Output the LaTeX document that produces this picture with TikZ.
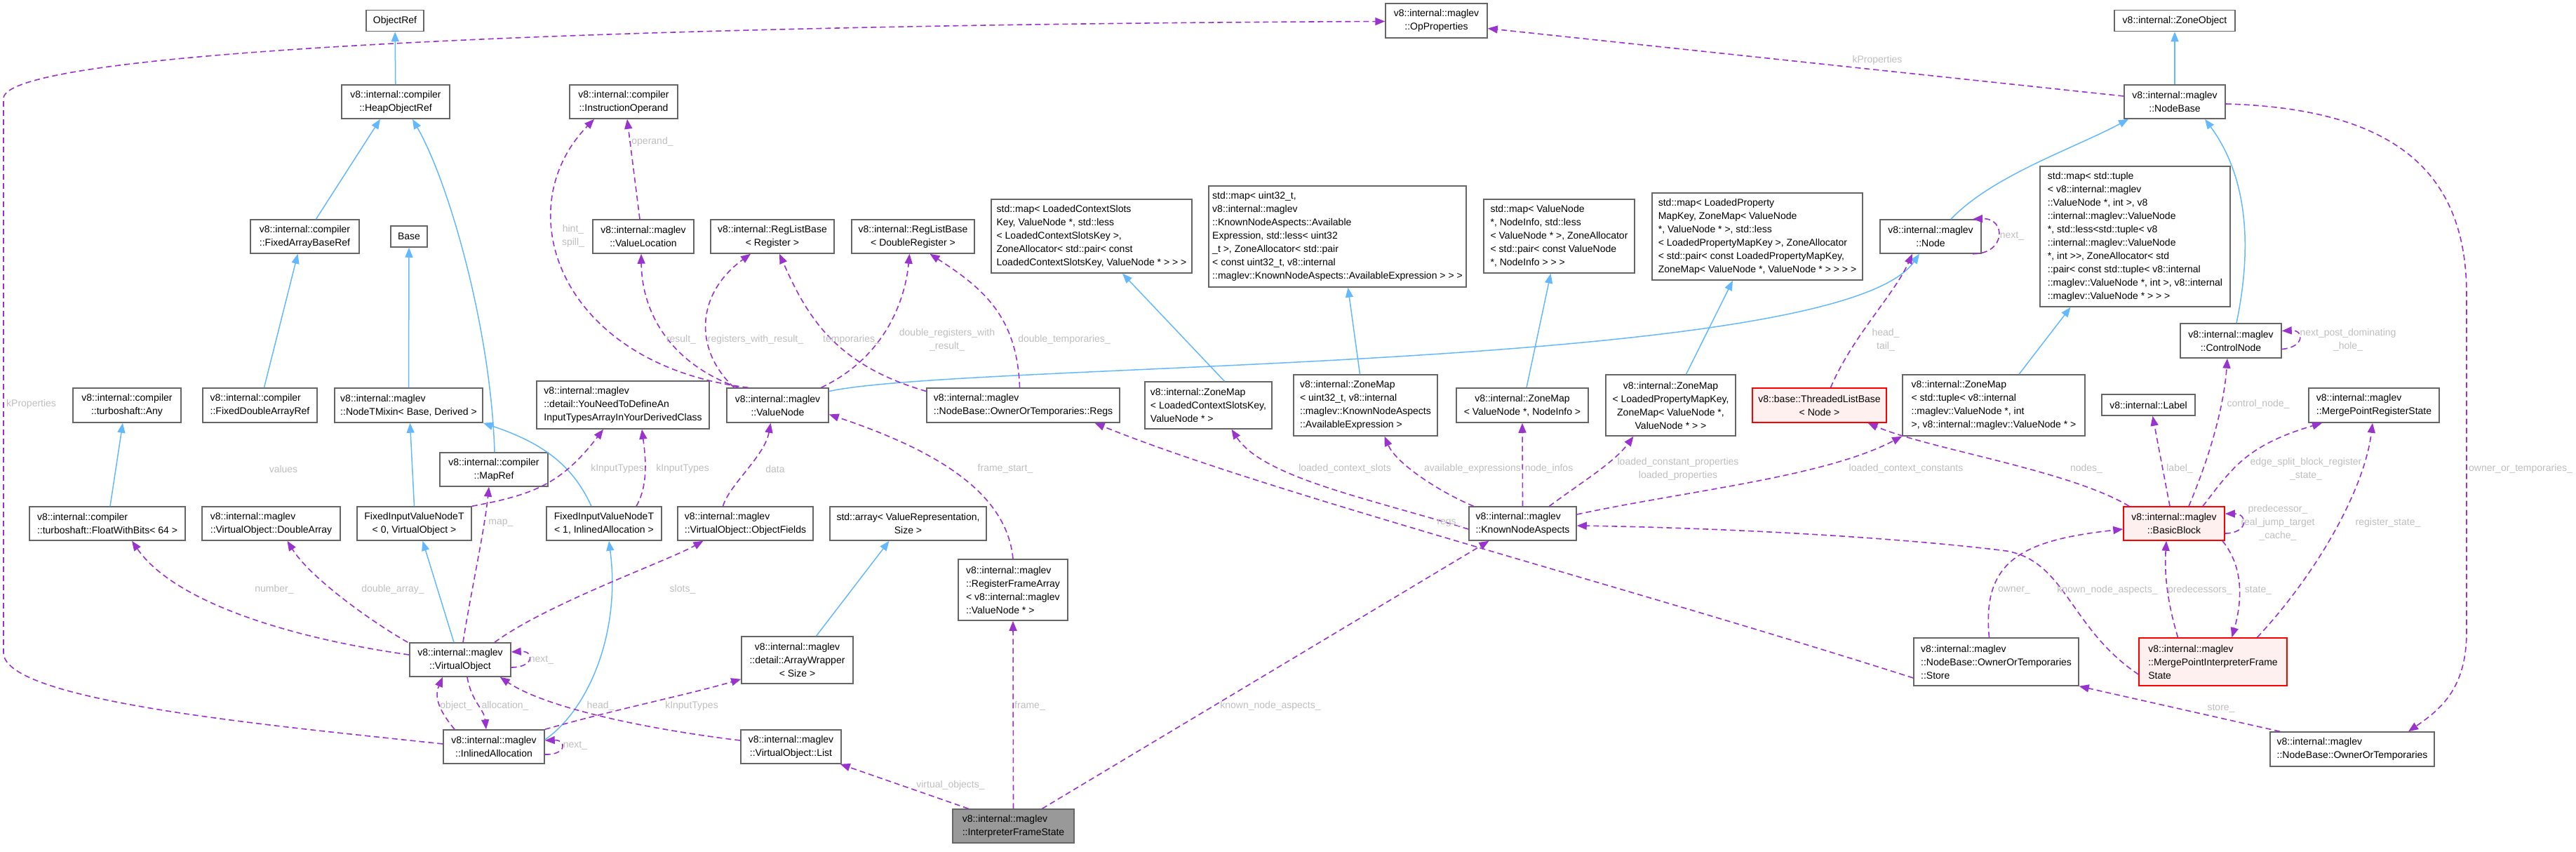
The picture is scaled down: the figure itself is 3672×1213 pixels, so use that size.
\documentclass[tikz,border=0pt]{standalone}
\usepackage{fontspec}
\setmainfont{Liberation Sans}
\usetikzlibrary{arrows.meta}

\definecolor{edgeblue}{HTML}{63B8FF}
\definecolor{edgepurple}{HTML}{9A32CD}
\definecolor{boxgray}{HTML}{666666}
\definecolor{lblgray}{HTML}{BEBEBE}
\definecolor{truncfill}{HTML}{FFF0F0}
\definecolor{curfill}{HTML}{999999}

\begin{document}
\begin{tikzpicture}[
  x=1pt, y=-1pt,
  every node/.style={font=\fontsize{14}{19}\selectfont},
  cls/.style={draw=boxgray, line width=1.5pt, fill=white, align=center, inner sep=2pt},
  clsl/.style={cls, align=left},
  sz/.style 2 args={minimum width=#1pt, minimum height=#2pt},
  trunc/.style={draw=red, fill=truncfill},
  cur/.style={fill=curfill},
  inherit/.style={draw=edgeblue, line width=1.5pt, -{Triangle[length=14pt,width=11pt]}},
  member/.style={draw=edgepurple, line width=1.6pt, dash pattern=on 8pt off 5pt,
                 -{Triangle[length=14pt,width=11pt]}},
  lbl/.style={text=lblgray, align=center, inner sep=0pt},
]
\useasboundingbox (0,0) rectangle (3672,1213);

% ---- top rows ---------------------------------------------------------
\node[cls, sz={82}{30}]   (objref)   at (563,29.5)    {ObjectRef};
\node[cls, sz={145}{49}]  (opprops)  at (2047.5,29.5) {v8::internal::maglev\\::OpProperties};
\node[cls, sz={172}{30}]  (zoneobj)  at (3100,29.5)   {v8::internal::ZoneObject};
\node[cls, sz={154}{48}]  (heapref)  at (564,145)     {v8::internal::compiler\\::HeapObjectRef};
\node[cls, sz={154}{48}]  (instrop)  at (889,145)     {v8::internal::compiler\\::InstructionOperand};
\node[cls, sz={144}{48}]  (nodebase) at (3100,145)    {v8::internal::maglev\\::NodeBase};

% ---- std::map row -----------------------------------------------------
\node[clsl, sz={286}{105}] (mapctx) at (1556,336.5)
  {std::map< LoadedContextSlots\\Key, ValueNode *, std::less\\< LoadedContextSlotsKey >,\\ZoneAllocator< std::pair< const\\LoadedContextSlotsKey, ValueNode * > > >};
\node[clsl, sz={367}{144}] (mapavail) at (1906.5,337)
  {std::map< uint32\_t,\\v8::internal::maglev\\::KnownNodeAspects::Available\\Expression, std::less< uint32\\\_t >, ZoneAllocator< std::pair\\< const uint32\_t, v8::internal\\::maglev::KnownNodeAspects::AvailableExpression > > >};
\node[clsl, sz={215}{105}] (mapinfo) at (2222.5,336.5)
  {std::map< ValueNode\\*, NodeInfo, std::less\\< ValueNode * >, ZoneAllocator\\< std::pair< const ValueNode\\*, NodeInfo > > >};
\node[clsl, sz={300}{124}] (mapprop) at (2505,337)
  {std::map< LoadedProperty\\MapKey, ZoneMap< ValueNode\\*, ValueNode * >, std::less\\< LoadedPropertyMapKey >, ZoneAllocator\\< std::pair< const LoadedPropertyMapKey,\\ZoneMap< ValueNode *, ValueNode * > > > >};
\node[clsl, sz={271}{200}] (maptuple) at (3043.5,337)
  {std::map< std::tuple\\< v8::internal::maglev\\::ValueNode *, int >, v8\\::internal::maglev::ValueNode\\*, std::less<std::tuple< v8\\::internal::maglev::ValueNode\\*, int {>}{>}, ZoneAllocator< std\\::pair< const std::tuple< v8::internal\\::maglev::ValueNode *, int >, v8::internal\\::maglev::ValueNode * > > >};

\node[cls, sz={155}{48}] (fixedbase) at (434.5,337)  {v8::internal::compiler\\::FixedArrayBaseRef};
\node[cls, sz={52}{30}]  (base)      at (583,337)    {Base};
\node[cls, sz={144}{48}] (valueloc)  at (917,337)    {v8::internal::maglev\\::ValueLocation};
\node[cls, sz={176}{48}] (reglist)   at (1101,337)   {v8::internal::RegListBase\\< Register >};
\node[cls, sz={175}{48}] (regdbl)    at (1301.5,337) {v8::internal::RegListBase\\< DoubleRegister >};
\node[cls, sz={144}{48}] (mnode)     at (2752,337)   {v8::internal::maglev\\::Node};
\node[cls, sz={144}{49}] (controlnode) at (3180,485.5) {v8::internal::maglev\\::ControlNode};

% ---- middle row -------------------------------------------------------
\node[cls, sz={154}{49}]  (anyk)      at (181,577.5)   {v8::internal::compiler\\::turboshaft::Any};
\node[clsl, sz={163}{49}] (fixeddbl)  at (370.5,577.5) {v8::internal::compiler\\::FixedDoubleArrayRef};
\node[clsl, sz={211}{49}] (mixin)     at (582.5,577.5) {v8::internal::maglev\\::NodeTMixin< Base, Derived >};
\node[clsl, sz={246}{68}] (youneed)   at (888,577)     {v8::internal::maglev\\::detail::YouNeedToDefineAn\\InputTypesArrayInYourDerivedClass};
\node[cls, sz={145}{49}]  (valuenode) at (1108.5,577.5) {v8::internal::maglev\\::ValueNode};
\node[clsl, sz={275}{49}] (regs)      at (1458.5,577.5) {v8::internal::maglev\\::NodeBase::OwnerOrTemporaries::Regs};
\node[clsl, sz={181}{67}] (zmctx)     at (1722.5,577.5) {v8::internal::ZoneMap\\< LoadedContextSlotsKey,\\ValueNode * >};
\node[clsl, sz={205}{87}] (zmavail)   at (1946.5,577.5) {v8::internal::ZoneMap\\< uint32\_t, v8::internal\\::maglev::KnownNodeAspects\\::AvailableExpression >};
\node[cls, sz={188}{49}]  (zminfo)    at (2170,577.5)  {v8::internal::ZoneMap\\< ValueNode *, NodeInfo >};
\node[cls, sz={185}{87}]  (zmprop)    at (2381.5,577.5) {v8::internal::ZoneMap\\< LoadedPropertyMapKey,\\ZoneMap< ValueNode *,\\ValueNode * > >};
\node[cls, trunc, sz={191}{49}] (threaded) at (2593.5,577.5) {v8::base::ThreadedListBase\\< Node >};
\node[clsl, sz={260}{87}] (zmtuple)   at (2842,577.5)  {v8::internal::ZoneMap\\< std::tuple< v8::internal\\::maglev::ValueNode *, int\\>, v8::internal::maglev::ValueNode * >};
\node[cls, sz={133}{30}]  (label)     at (3062.5,577)  {v8::internal::Label};
\node[clsl, sz={186}{49}] (mprs)      at (3384,577.5)  {v8::internal::maglev\\::MergePointRegisterState};
\node[cls, sz={154}{48}]  (mapref)    at (704,669)     {v8::internal::compiler\\::MapRef};

% ---- lower rows -------------------------------------------------------
\node[clsl, sz={222}{48}] (floatbits) at (153,746)    {v8::internal::compiler\\::turboshaft::FloatWithBits< 64 >};
\node[clsl, sz={197}{48}] (dblarray)  at (386.5,746)  {v8::internal::maglev\\::VirtualObject::DoubleArray};
\node[cls, sz={163}{48}]  (fixed0)    at (590.5,746)  {FixedInputValueNodeT\\< 0, VirtualObject >};
\node[cls, sz={164}{48}]  (fixed1)    at (861,746)    {FixedInputValueNodeT\\< 1, InlinedAllocation >};
\node[clsl, sz={193}{48}] (objfields) at (1062.5,746) {v8::internal::maglev\\::VirtualObject::ObjectFields};
\node[cls, sz={223}{48}]  (stdarray)  at (1294.5,746) {std::array< ValueRepresentation,\\Size >};
\node[clsl, sz={153}{48}] (kna)       at (2170.5,746) {v8::internal::maglev\\::KnownNodeAspects};
\node[cls, trunc, sz={144}{48}] (basicblock) at (3099,746) {v8::internal::maglev\\::BasicBlock};
\node[clsl, sz={156}{87}] (regframe)  at (1444,840.5) {v8::internal::maglev\\::RegisterFrameArray\\< v8::internal::maglev\\::ValueNode * >};
\node[cls, sz={144}{48}]  (virtobj)   at (656,940)    {v8::internal::maglev\\::VirtualObject};
\node[cls, sz={159}{67}]  (arraywrap) at (1136.5,940.5) {v8::internal::maglev\\::detail::ArrayWrapper\\< Size >};
\node[clsl, sz={235}{68}] (store)     at (2845.5,943) {v8::internal::maglev\\::NodeBase::OwnerOrTemporaries\\::Store};
\node[clsl, trunc, sz={211}{68}] (mpifs) at (3154.5,943) {v8::internal::maglev\\::MergePointInterpreterFrame\\State};
\node[cls, sz={144}{48}]  (inlined)   at (704,1064)   {v8::internal::maglev\\::InlinedAllocation};
\node[cls, sz={143}{48}]  (vlist)     at (1127.5,1064) {v8::internal::maglev\\::VirtualObject::List};
\node[clsl, sz={234}{49}] (owntemp)   at (3353,1067.5) {v8::internal::maglev\\::NodeBase::OwnerOrTemporaries};
\node[clsl, cur, sz={173}{48}] (ifs)  at (1444.5,1177) {v8::internal::maglev\\::InterpreterFrameState};

% ---- inheritance ------------------------------------------------------
\draw[inherit] (heapref) -- (objref);
\draw[inherit] ([xshift=16pt]fixedbase.north) -- ([xshift=-22pt]heapref.south);
\draw[inherit] ([xshift=1pt]mapref.north) .. controls (700,470) and (640,260) .. ([xshift=24pt]heapref.south);
\draw[inherit] ([xshift=6pt]fixeddbl.north) -- ([xshift=-10pt]fixedbase.south);
\draw[inherit] (mixin.north) -- (base.south);
\draw[inherit] ([xshift=4pt]floatbits.north) -- ([xshift=-6pt]anyk.south);
\draw[inherit] (fixed0.north) -- ([xshift=2pt]mixin.south);
\draw[inherit] ([xshift=-18pt]fixed1.north) .. controls (815,660) and (770,630) .. (mixin.south east);
\draw[inherit] ([xshift=-9pt]virtobj.north) -- ([xshift=12pt]fixed0.south);
\draw[inherit] ([yshift=10pt]inlined.east) .. controls (840,1010) and (885,900) .. ([xshift=7pt]fixed1.south);
\draw[inherit] ([yshift=20pt]valuenode.east) .. controls (1380,515) and (2620,530) .. ([xshift=-16pt]mnode.south);
\draw[inherit] ([xshift=29pt]mnode.north) .. controls (2840,250) and (2960,210) .. ([xshift=-66pt]nodebase.south);
\draw[inherit] ([xshift=8pt]controlnode.north) .. controls (3215,330) and (3195,240) .. ([xshift=43pt]nodebase.south);
\draw[inherit] (nodebase) -- (zoneobj);
\draw[inherit] ([xshift=23pt]zmctx.north) -- ([xshift=44pt]mapctx.south);
\draw[inherit] ([xshift=-8pt]zmavail.north) -- ([xshift=15pt]mapavail.south);
\draw[inherit] ([xshift=6pt]zminfo.north) -- ([xshift=-12pt]mapinfo.south);
\draw[inherit] ([xshift=22pt]zmprop.north) -- ([xshift=-35pt]mapprop.south);
\draw[inherit] ([xshift=36pt]zmtuple.north) -- ([xshift=-92pt]maptuple.south);
\draw[inherit] ([xshift=27pt]arraywrap.north) -- ([xshift=-27pt]stdarray.south);

% ---- members: left part -----------------------------------------------
\draw[member] ([yshift=4pt]inlined.west) .. controls (400,1035) and (5,1000) .. (5,930)
  -- (5,140) .. controls (8,70) and (900,35) .. ([yshift=-1pt]opprops.west);
\draw[member] ([yshift=7pt]virtobj.west) .. controls (420,910) and (250,860) .. ([xshift=35pt]floatbits.south);
\draw[member] ([xshift=-2pt]virtobj.north west) .. controls (520,880) and (440,820) .. ([xshift=23pt]dblarray.south);
\draw[member] ([xshift=4pt]virtobj.north) .. controls (670,850) and (690,760) .. ([xshift=-7pt]mapref.south);
\draw[member] ([xshift=49pt]virtobj.north) .. controls (780,860) and (950,800) .. ([xshift=-60pt]objfields.south);
\draw[member] ([yshift=-11pt]virtobj.east) .. controls (762,951) and (762,927) .. ([yshift=11pt]virtobj.east);
\draw[member] ([xshift=-56pt]inlined.north) .. controls (628,1015) and (618,995) .. ([xshift=-25pt]virtobj.south);
\draw[member] ([xshift=10pt]virtobj.south) .. controls (672,1000) and (690,1010) .. ([xshift=-11pt]inlined.north);
\draw[member] ([yshift=-11pt]inlined.east) .. controls (808,1076) and (808,1054) .. ([yshift=9pt]inlined.east);
\draw[member] ([yshift=9pt]vlist.west) .. controls (930,1040) and (780,1010) .. ([xshift=-16pt]virtobj.south east);
\draw[member] (inlined.north east) .. controls (880,1010) and (980,990) .. ([yshift=7pt]arraywrap.south west);
\draw[member] (fixed0.north east) .. controls (760,705) and (800,690) .. ([xshift=-28pt]youneed.south);
\draw[member] ([xshift=46pt]fixed1.north) .. controls (925,690) and (920,650) .. ([xshift=27pt]youneed.south);

% ---- members: value node and registers --------------------------------
\draw[member] ([xshift=-42pt]valuenode.north) .. controls (800,520) and (720,300) .. ([xshift=-42pt]instrop.south);
\draw[member] ([xshift=-56pt]valuenode.north) .. controls (960,520) and (915,450) .. ([xshift=-3pt]valueloc.south);
\draw[member] ([xshift=-62pt]valuenode.north) .. controls (990,500) and (990,420) .. ([xshift=-31pt]reglist.south);
\draw[member] ([yshift=20pt]regs.west) .. controls (1190,520) and (1150,450) .. ([xshift=10pt]reglist.south);
\draw[member] ([xshift=62pt]valuenode.north) .. controls (1260,510) and (1290,430) .. ([xshift=-5pt]regdbl.south);
\draw[member] ([xshift=-5pt]regs.north) .. controls (1450,450) and (1400,410) .. ([xshift=24pt]regdbl.south);
\draw[member] ([xshift=-5pt]valueloc.north) -- ([xshift=5pt]instrop.south);
\draw[member] ([xshift=-32pt]objfields.north) .. controls (1040,690) and (1090,650) .. ([xshift=-10pt]valuenode.south);
\draw[member] (regframe.north) .. controls (1435,700) and (1330,640) .. ([yshift=-13pt]valuenode.east);

% ---- members: interpreter frame state ---------------------------------
\draw[member] ([xshift=-64pt]ifs.north) -- ([xshift=-2pt]vlist.south east);
\draw[member] (ifs.north) -- (regframe.south);
\draw[member] ([xshift=41pt]ifs.north) -- ([xshift=-48pt]kna.south);

% ---- members: known node aspects --------------------------------------
\draw[member] ([yshift=-8pt]kna.west) .. controls (1950,710) and (1800,680) .. ([xshift=33pt]zmctx.south);
\draw[member] ([xshift=-70pt]kna.north) .. controls (2050,700) and (1990,660) .. ([xshift=27pt]zmavail.south);
\draw[member] (kna.north) -- (zminfo.south);
\draw[member] ([xshift=38pt]kna.north) .. controls (2250,690) and (2300,660) .. ([xshift=-53pt]zmprop.south);
\draw[member] ([yshift=13pt]kna.east) .. controls (2400,700) and (2600,680) .. (zmtuple.south west);
\draw[member] ([yshift=-23pt]store.west) .. controls (2300,830) and (1800,700) .. ([xshift=102pt]regs.south);

% ---- members: right part ----------------------------------------------
\draw[member] ([yshift=-18pt]mpifs.west) .. controls (2950,895) and (2945,800) .. (2860,785)
  .. controls (2700,765) and (2450,752) .. ([yshift=-3pt]kna.east);
\draw[member] ([xshift=-64pt]basicblock.north) .. controls (2950,670) and (2750,640) .. ([xshift=69pt]threaded.south);
\draw[member] ([xshift=16pt]threaded.north) .. controls (2640,480) and (2700,420) .. ([xshift=-26pt]mnode.south);
\draw[member] ([xshift=60pt]mnode.south) .. controls (2860,362) and (2860,310) .. ([xshift=60pt]mnode.north);
\draw[member] ([xshift=21pt]basicblock.north) .. controls (3150,650) and (3170,580) .. ([xshift=-5pt]controlnode.south);
\draw[member] ([yshift=-12pt]controlnode.east) .. controls (3285,495) and (3285,470) .. ([yshift=14pt]controlnode.east);
\draw[member] ([xshift=-6pt]basicblock.north) -- ([xshift=6pt]label.south);
\draw[member] ([xshift=41pt]basicblock.north) .. controls (3180,670) and (3200,635) .. ([xshift=-74pt]mprs.south);
\draw[member] ([yshift=-14pt]basicblock.east) .. controls (3205,760) and (3205,732) .. ([yshift=14pt]basicblock.east);
\draw[member] ([xshift=-50pt]mpifs.north) .. controls (3090,860) and (3085,820) .. ([xshift=-11pt]basicblock.south);
\draw[member] ([xshift=69pt]basicblock.south) .. controls (3200,810) and (3195,860) .. ([xshift=27pt]mpifs.north);
\draw[member] ([xshift=63pt]mpifs.north) .. controls (3300,820) and (3370,700) .. ([xshift=-2pt]mprs.south);
\draw[member] ([xshift=-10pt]store.north) .. controls (2825,800) and (2880,770) .. ([yshift=-8pt]basicblock.west);
\draw[member] ([xshift=-103pt]owntemp.north) -- (store.south east);
\draw[member] ([yshift=-3pt]nodebase.east) .. controls (3420,155) and (3516,250) .. (3516,420)
  -- (3516,900) .. controls (3516,980) and (3480,1010) .. ([xshift=80pt]owntemp.north);
\draw[member] ([yshift=8pt]nodebase.west) -- ([yshift=-11pt]opprops.east);

% ---- edge labels ------------------------------------------------------
\node[lbl, anchor=west] (lkprop1) at (9,576) {kProperties};
\node[lbl] (lhint)    at (817,336)   {hint\_\\spill\_};
\node[lbl] (loperand) at (930,202)   {operand\_};
\node[lbl] (lresult)  at (971,484)   {result\_};
\node[lbl] (lregres)  at (1077,484)  {registers\_with\_result\_};
\node[lbl] (ltemps)   at (1214,484)  {temporaries\_};
\node[lbl] (ldblres)  at (1350,484)  {double\_registers\_with\\\_result\_};
\node[lbl] (ldbltmp)  at (1517,484)  {double\_temporaries\_};
\node[lbl] (lvalues)  at (404,668)   {values};
\node[lbl] (lmap)     at (714,745)   {map\_};
\node[lbl] (linput1)  at (880,668)   {kInputTypes};
\node[lbl] (linput2)  at (973,668)   {kInputTypes};
\node[lbl] (ldata)    at (1105,668)  {data};
\node[lbl] (lfstart)  at (1433,668)  {frame\_start\_};
\node[lbl] (lnumber)  at (391,840)   {number\_};
\node[lbl] (ldblarr)  at (560,840)   {double\_array\_};
\node[lbl] (lslots)   at (973,840)   {slots\_};
\node[lbl] (lnextvo)  at (772,940)   {next\_};
\node[lbl] (lobject)  at (650,1006)  {object\_};
\node[lbl] (lalloc)   at (720,1006)  {allocation\_};
\node[lbl] (lhead)    at (856,1006)  {head\_};
\node[lbl] (linput3)  at (986,1006)  {kInputTypes};
\node[lbl] (lnextia)  at (820,1062)  {next\_};
\node[lbl] (lframe)   at (1468,1006) {frame\_};
\node[lbl] (lkna1)    at (1811,1006) {known\_node\_aspects\_};
\node[lbl] (lvobjs)   at (1355,1119) {virtual\_objects\_};
\node[lbl] (lctxslot) at (1917,668)  {loaded\_context\_slots};
\node[lbl] (lavail)   at (2099,668)  {available\_expressions};
\node[lbl] (linfos)   at (2208,668)  {node\_infos};
\node[lbl] (lconst)   at (2392,668)  {loaded\_constant\_properties\\loaded\_properties};
\node[lbl] (lctxconst) at (2717,668) {loaded\_context\_constants};
\node[lbl] (lheadtail) at (2688,484) {head\_\\tail\_};
\node[lbl] (lregs)    at (2066,745)  {regs\_};
\node[lbl] (lkprop2)  at (2676,86)   {kProperties};
\node[lbl] (lnextn)   at (2868,336)  {next\_};
\node[lbl] (lpostdom) at (3347,484)  {next\_post\_dominating\\\_hole\_};
\node[lbl] (lctrl)    at (3219,576)  {control\_node\_};
\node[lbl] (lnodes)   at (2974,668)  {nodes\_};
\node[lbl] (llabel)   at (3107,668)  {label\_};
\node[lbl] (ledge)    at (3287,668)  {edge\_split\_block\_register\\\_state\_};
\node[lbl] (lowntmp)  at (3593,668)  {owner\_or\_temporaries\_};
\node[lbl] (lpred)    at (3247,745)  {predecessor\_\\real\_jump\_target\\\_cache\_};
\node[lbl] (lregst)   at (3404,745)  {register\_state\_};
\node[lbl] (lowner)   at (2871,841)  {owner\_};
\node[lbl] (lkna2)    at (3004,841)  {known\_node\_aspects\_};
\node[lbl] (lpreds)   at (3136,841)  {predecessors\_};
\node[lbl] (lstate)   at (3219,841)  {state\_};
\node[lbl] (lstore)   at (3166,1009) {store\_};

\end{tikzpicture}
\end{document}
